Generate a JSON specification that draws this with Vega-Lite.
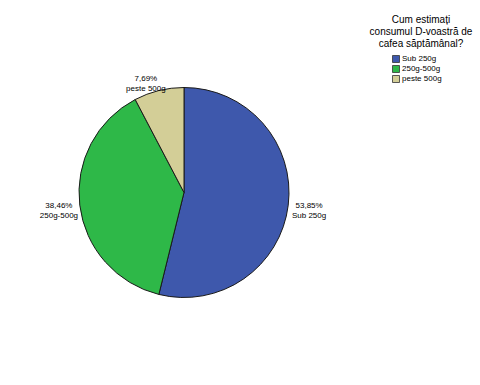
{
  "$schema": "https://vega.github.io/schema/vega-lite/v6.json",
  "width": 368,
  "height": 385,
  "padding": 0,
  "background": "white",
  "view": {"stroke": null},
  "config": {"font": "Liberation Sans"},
  "data": {
    "values": [
      {"cat": "Sub 250g", "pct": 53.85, "ord": 1, "label": "53,85%\nSub 250g"},
      {"cat": "250g-500g", "pct": 38.46, "ord": 2, "label": "38,46%\n250g-500g"},
      {"cat": "peste 500g", "pct": 7.69, "ord": 3, "label": "7,69%\npeste 500g"}
    ]
  },
  "encoding": {
    "theta": {"field": "pct", "type": "quantitative", "stack": true},
    "order": {"field": "ord", "type": "quantitative"}
  },
  "layer": [
    {
      "mark": {"type": "arc", "outerRadius": 105, "stroke": "#1a1a1a", "strokeWidth": 1},
      "encoding": {
        "color": {
          "field": "cat",
          "type": "nominal",
          "scale": {"domain": ["Sub 250g", "250g-500g", "peste 500g"], "range": ["#3E58AC", "#2EB848", "#D3CE97"]},
          "legend": {
            "orient": "none",
            "legendX": 370,
            "legendY": 15,
            "padding": 0,
            "title": ["Cum estimați", "consumul D-voastră de", "cafea săptămânal?"],
            "titleFontSize": 10,
            "titleFontWeight": "normal",
            "titleColor": "#000",
            "titleFont": "Liberation Sans",
            "titleLineHeight": 12,
            "titleAlign": "center",
            "titleAnchor": "middle",
            "titlePadding": 6,
            "symbolType": "square",
            "symbolSize": 49,
            "symbolStrokeColor": "#333",
            "symbolStrokeWidth": 0.8,
            "symbolOffset": -8,
            "labelFontSize": 8,
            "labelColor": "#000",
            "labelFont": "Liberation Sans",
            "labelOffset": 2,
            "rowPadding": -2
          }
        }
      }
    },
    {
      "mark": {"type": "text", "radius": 126, "fontSize": 8, "lineBreak": "\n", "lineHeight": 10, "align": "center", "baseline": "middle", "dy": -2, "color": "#000"},
      "encoding": {
        "detail": {"field": "cat", "type": "nominal"},
        "text": {"condition": {"test": "datum.cat !== 'peste 500g'", "field": "label"}, "value": ""}
      }
    },
    {
      "mark": {"type": "text", "radius": 105, "fontSize": 8, "lineBreak": "\n", "lineHeight": 10, "align": "center", "baseline": "middle", "dx": -13, "dy": -11.5, "color": "#000"},
      "encoding": {
        "detail": {"field": "cat", "type": "nominal"},
        "text": {"condition": {"test": "datum.cat === 'peste 500g'", "field": "label"}, "value": ""}
      }
    }
  ]
}
